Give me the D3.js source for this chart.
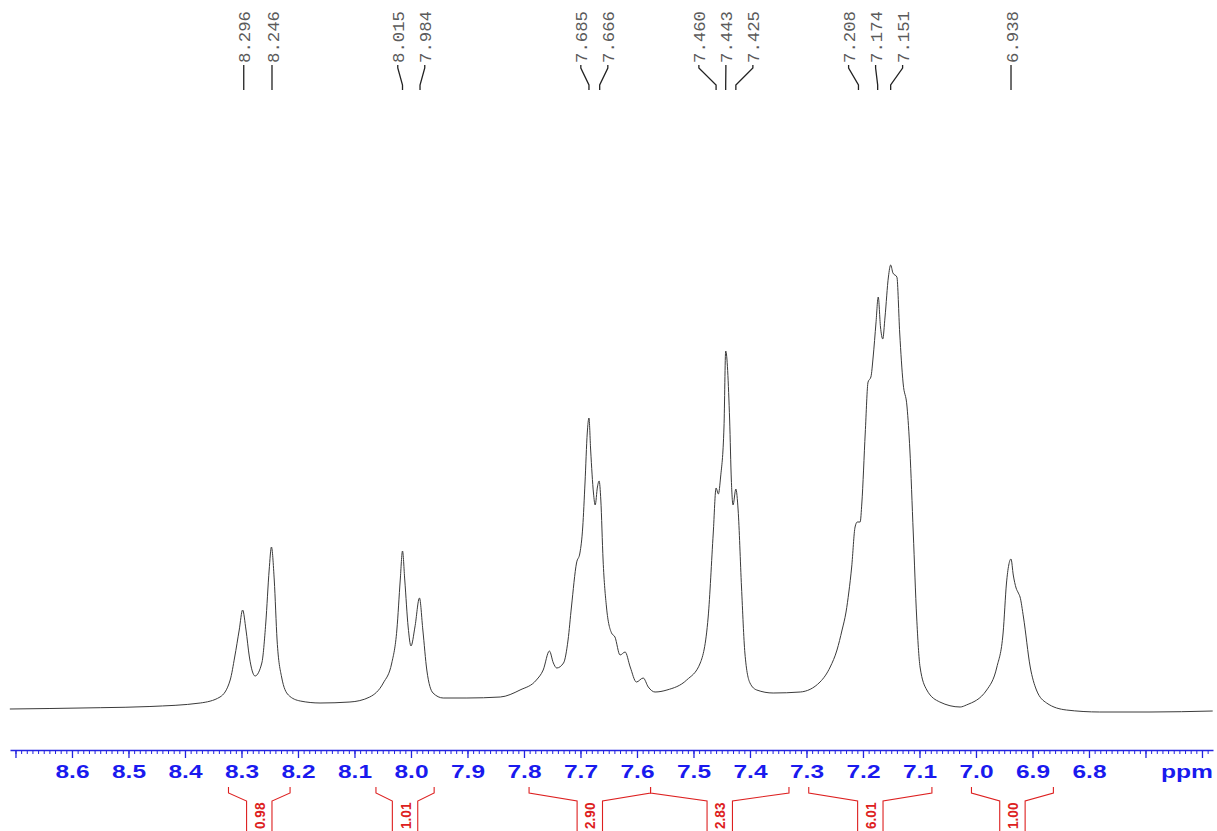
<!DOCTYPE html>
<html>
<head>
<meta charset="utf-8">
<script src="https://cdn.jsdelivr.net/npm/d3@7"></script>
<style>
  html, body { margin: 0; padding: 0; background: #ffffff; }
  svg { display: block; }
</style>
</head>
<body>
<svg id="chart" width="1217" height="831"></svg>
<script>
// ---- Data ----
const ppm = [8.710, 8.639, 8.550, 8.462, 8.373, 8.338, 8.320, 8.312, 8.304, 8.298, 8.292, 8.286, 8.276, 8.264, 8.257, 8.251, 8.247, 8.242, 8.237, 8.229, 8.217, 8.196, 8.161, 8.108, 8.073, 8.049, 8.034, 8.025, 8.019, 8.015, 8.011, 8.005, 8.000, 7.993, 7.985, 7.979, 7.972, 7.961, 7.943, 7.901, 7.842, 7.807, 7.778, 7.766, 7.755, 7.748, 7.742, 7.730, 7.722, 7.716, 7.707, 7.701, 7.696, 7.692, 7.688, 7.685, 7.682, 7.677, 7.674, 7.670, 7.667, 7.664, 7.660, 7.654, 7.645, 7.639, 7.630, 7.621, 7.612, 7.601, 7.589, 7.580, 7.568, 7.547, 7.512, 7.488, 7.474, 7.465, 7.460, 7.456, 7.452, 7.446, 7.443, 7.436, 7.433, 7.430, 7.425, 7.421, 7.415, 7.409, 7.400, 7.388, 7.359, 7.311, 7.276, 7.258, 7.246, 7.237, 7.230, 7.225, 7.220, 7.214, 7.210, 7.205, 7.202, 7.196, 7.191, 7.186, 7.182, 7.177, 7.173, 7.169, 7.165, 7.161, 7.155, 7.151, 7.147, 7.140, 7.135, 7.129, 7.122, 7.117, 7.111, 7.105, 7.099, 7.087, 7.064, 7.028, 7.017, 6.981, 6.963, 6.952, 6.946, 6.938, 6.934, 6.929, 6.925, 6.922, 6.916, 6.904, 6.893, 6.875, 6.840, 6.781, 6.692, 6.581];
const intensity = [3, 3.5, 4.3, 5.5, 9, 15, 32, 55, 82, 102, 82, 55, 36, 49, 89, 142, 165, 132, 72, 35, 17, 11, 9, 10, 15, 29, 49, 82, 132, 161, 132, 85, 66, 85, 114, 82, 42, 19, 14, 14, 15, 22, 32, 42, 61, 49, 44, 49, 72, 105, 149, 159, 185, 229, 279, 294, 262, 219, 207, 225, 231, 212, 152, 105, 79, 75, 57, 60, 45, 30, 34, 25, 20, 22, 32, 49, 95, 179, 224, 218, 235, 285, 361, 292, 232, 207, 223, 202, 125, 59, 29, 22, 19, 20, 30, 45, 62, 82, 100, 120, 145, 185, 190, 190, 209, 279, 330, 335, 355, 389, 415, 385, 373, 395, 435, 447, 439, 435, 379, 329, 305, 262, 179, 95, 45, 22, 10, 5, 7, 22, 45, 79, 129, 153, 137, 124, 119, 115, 95, 45, 22, 9, 2, 0, 0, 1];

const peakLabels = ["8.296", "8.246", "8.015", "7.984", "7.685", "7.666", "7.460", "7.443", "7.425", "7.208", "7.174", "7.151", "6.938"];

const majorTicks = [8.7, 8.6, 8.5, 8.4, 8.3, 8.2, 8.1, 8.0, 7.9, 7.8, 7.7, 7.6, 7.5, 7.4, 7.3, 7.2, 7.1, 7.0, 6.9, 6.8, 6.7, 6.6];
const tickLabels = ["8.6", "8.5", "8.4", "8.3", "8.2", "8.1", "8.0", "7.9", "7.8", "7.7", "7.6", "7.5", "7.4", "7.3", "7.2", "7.1", "7.0", "6.9", "6.8"];
const axisUnit = "ppm";

const intFrom = [8.323, 8.062, 7.791, 7.576, 7.296, 7.008];
const intTo = [8.214, 7.959, 7.576, 7.331, 7.078, 6.863];
const intValues = ["0.98", "1.01", "2.90", "2.83", "6.01", "1.00"];

// ---- Layout ----
const svg = d3.select("#chart");
const x = d3.scaleLinear().domain([8.7097, 6.5805]).range([10, 1213]);
const y = d3.scaleLinear().domain([0, 450]).range([712, 262]);

const axisY = 750;
const blue = "#2323e0";
const red = "#dd2020";

// ---- Spectrum ----
const pts = ppm.map((p, i) => [p, intensity[i]]);
const line = d3.line().x(d => x(d[0])).y(d => y(d[1])).curve(d3.curveMonotoneX);
svg.append("path")
  .datum(pts)
  .attr("d", line)
  .attr("fill", "none")
  .attr("stroke", "#3a3a3a")
  .attr("stroke-width", 1);

// ---- Axis: minor ticks ----
const minorVals = d3.range(659, 871).map(v => v / 100);
const minorAxis = d3.axisBottom(x).tickValues(minorVals).tickSize(4).tickSizeOuter(0).tickFormat("");
const gMinor = svg.append("g").attr("transform", `translate(0,${axisY})`).call(minorAxis);
gMinor.selectAll("line").attr("stroke", blue).attr("stroke-width", 1);
gMinor.select(".domain").attr("stroke", blue).attr("stroke-width", 1.6);

// ---- Axis: major ticks + labels ----
const majorAxis = d3.axisBottom(x).tickValues(majorTicks).tickSize(8).tickSizeOuter(0).tickPadding(8)
  .tickFormat(d => { const s = d3.format(".1f")(d); return tickLabels.includes(s) ? s : ""; });
const gMajor = svg.append("g").attr("transform", `translate(0,${axisY})`).call(majorAxis);
gMajor.select(".domain").remove();
gMajor.selectAll("line").attr("stroke", blue).attr("stroke-width", 1.3);
gMajor.selectAll("text")
  .filter(function() { return this.textContent !== ""; })
  .attr("fill", "#1a1aee")
  .attr("font-family", "Liberation Sans, Arial, sans-serif")
  .attr("font-weight", "bold")
  .attr("font-size", 17.5)
  .attr("textLength", 34)
  .attr("lengthAdjust", "spacingAndGlyphs");

svg.append("text")
  .attr("x", 1213).attr("y", 778)
  .attr("text-anchor", "end")
  .attr("fill", "#1a1aee")
  .attr("font-family", "Liberation Sans, Arial, sans-serif")
  .attr("font-weight", "bold")
  .attr("font-size", 17.5)
  .attr("textLength", 52)
  .attr("lengthAdjust", "spacingAndGlyphs")
  .text(axisUnit);

// ---- Peak labels ----
const peaks = peakLabels.map(Number);
const px = peaks.map(p => x(p));
const minSpace = 27;
const clusters = [];
px.forEach((v, i) => {
  if (i > 0 && v - px[i - 1] < minSpace) clusters[clusters.length - 1].push(i);
  else clusters.push([i]);
});
const labelX = new Array(px.length);
clusters.forEach(c => {
  const m = d3.mean(c, i => px[i]);
  c.forEach((i, k) => { labelX[i] = m + (k - (c.length - 1) / 2) * minSpace; });
});

const gPeaks = svg.append("g");
peakLabels.forEach((lab, i) => {
  gPeaks.append("path")
    .attr("d", `M${labelX[i]},65 V68 L${px[i]},85 V90`)
    .attr("fill", "none")
    .attr("stroke", "#222")
    .attr("stroke-width", 1.3);
  gPeaks.append("text")
    .attr("transform", `translate(${labelX[i] + 1},63) rotate(-90)`)
    .attr("text-anchor", "start")
    .attr("dy", "0.35em")
    .attr("fill", "#5a5a5a")
    .attr("font-family", "Liberation Mono, DejaVu Sans Mono, monospace")
    .attr("font-size", 16)
    .attr("textLength", 52)
    .attr("lengthAdjust", "spacingAndGlyphs")
    .text(lab);
});

// ---- Integrals ----
const gInt = svg.append("g");
intValues.forEach((v, i) => {
  const x0 = x(intFrom[i]), x1 = x(intTo[i]);
  const mid = (x0 + x1) / 2;
  const hw = 12.7;
  gInt.append("path")
    .attr("d", `M${x0},787 V793 L${mid - hw},801 V832 M${x1},787 V793 L${mid + hw},801 V832`)
    .attr("fill", "none")
    .attr("stroke", red)
    .attr("stroke-width", 1.1);
  gInt.append("text")
    .attr("transform", `translate(${mid},802.5) rotate(-90)`)
    .attr("text-anchor", "end")
    .attr("dy", "0.36em")
    .attr("fill", red)
    .attr("font-family", "Liberation Sans, Arial, sans-serif")
    .attr("font-weight", "bold")
    .attr("font-size", 15.5)
    .attr("textLength", 26.5)
    .attr("lengthAdjust", "spacingAndGlyphs")
    .text(v);
});
</script>
</body>
</html>
